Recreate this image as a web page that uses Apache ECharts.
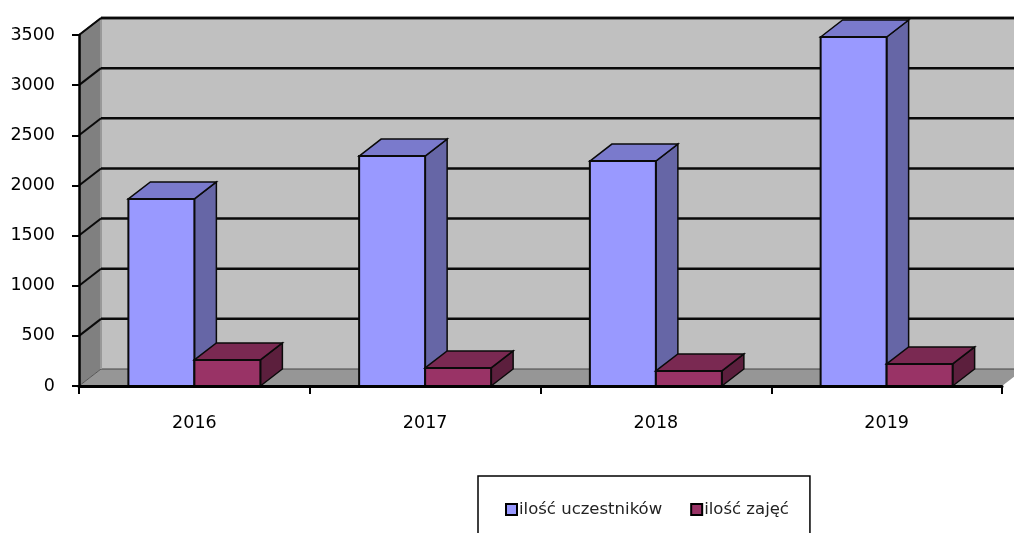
<!DOCTYPE html>
<html><head><meta charset="utf-8">
<style>html,body{margin:0;padding:0;background:#fff}#c{width:1014px;height:533px}</style>
<script src="https://cdn.jsdelivr.net/npm/echarts@6/dist/echarts.min.js"></script>
</head><body><div id="c"></div>
<script>
var categories = ['2016', '2017', '2018', '2019'];
var uczestnicy = [1865, 2293, 2243, 3480];
var zajecia = [260, 180, 150, 220];
var yTicks = [500, 1000, 1500, 2000, 2500, 3000, 3500];
var seriesNames = ['ilość uczestników', 'ilość zajęć'];

var DX = 22, DY = -17, BAR = 66, FONT = 'DejaVu Sans, Verdana, sans-serif';
var INK = '#0a0a0a';

function poly(points, fill, stroke, w) {
  return { type: 'polygon', shape: { points: points },
    style: { fill: fill, stroke: stroke || null, lineWidth: w || 0 } };
}
function seg(x1, y1, x2, y2, color, w) {
  return { type: 'line', shape: { x1: x1, y1: y1, x2: x2, y2: y2 },
    style: { stroke: color, lineWidth: w, fill: null } };
}
function wallItem(params, api) {
  var g = params.coordSys, l = g.x, r = g.x + g.width;
  var y0 = api.coord([0, 0])[1], yT = api.coord([0, 3500])[1];
  return { type: 'group', children: [
    poly([[l, y0], [l + DX, y0 + DY], [l + DX, yT + DY], [l, yT]], '#808080'),
    poly([[l + DX, y0 + DY], [r + DX, y0 + DY], [r + DX, yT + DY], [l + DX, yT + DY]], '#c0c0c0'),
    poly([[l, y0], [l + DX, y0 + DY], [r + DX, y0 + DY], [r, y0]], '#969696'),
    seg(l + DX, y0 + DY, r + DX, y0 + DY, '#444', 1),
    seg(l, y0, l + DX, y0 + DY, '#555', 1),
    seg(l + DX, y0 + DY, l + DX, yT + DY, '#999', 2),
    seg(l, yT, l + DX, yT + DY, '#333', 1.5),
    seg(l + DX, yT + DY, r + DX, yT + DY, '#222', 2.5)
  ] };
}
function gridItem(params, api) {
  var g = params.coordSys, l = g.x, r = g.x + g.width;
  var y = api.coord([0, api.value(1)])[1];
  return { type: 'group', children: [
    seg(l, y, l + DX, y + DY, INK, 2),
    seg(l + DX, y + DY, r + DX, y + DY, INK, 2.5)
  ] };
}
function barRenderer(offset, front, top, side) {
  return function (params, api) {
    var c = api.coord([api.value(0), api.value(1)]);
    var y0 = api.coord([api.value(0), 0])[1];
    var x1 = c[0] + offset * BAR, x2 = x1 + BAR, y = c[1];
    return { type: 'group', children: [
      poly([[x2, y0], [x2 + DX, y0 + DY], [x2 + DX, y + DY], [x2, y]], side, INK, 1.5),
      poly([[x1, y], [x1 + DX, y + DY], [x2 + DX, y + DY], [x2, y]], top, INK, 1.5),
      poly([[x1, y0], [x2, y0], [x2, y], [x1, y]], front, INK, 2)
    ] };
  };
}
function barData(values) {
  return values.map(function (v, i) { return [i, v]; });
}
var chart = echarts.init(document.getElementById('c'), null, { renderer: 'canvas' });
chart.setOption({
  animation: false,
  backgroundColor: '#fff',
  grid: { left: 79, right: 12, top: 35, bottom: 147 },
  legend: {
    data: seriesNames, left: 478, top: 476, orient: 'horizontal', icon: 'rect',
    padding: [25, 21, 40, 27], borderColor: '#000', borderWidth: 1.5,
    itemWidth: 11, itemHeight: 11, itemGap: 28,
    textStyle: { fontFamily: FONT, fontSize: 16.5, color: '#222', padding: [0, 0, 0, -3] }
  },
  xAxis: {
    type: 'category', data: categories, boundaryGap: true, z: 10,
    axisLine: { onZero: false, lineStyle: { color: '#000', width: 3 } },
    axisTick: { show: true, length: 8, lineStyle: { color: '#000', width: 2 } },
    axisLabel: { fontFamily: FONT, fontSize: 17.5, color: '#000', margin: 28 }
  },
  yAxis: {
    type: 'value', min: 0, max: 3500, interval: 500, z: 10,
    axisLine: { show: true, lineStyle: { color: '#000', width: 2.5 } },
    axisTick: { show: true, length: 7, lineStyle: { color: '#000', width: 2 } },
    splitLine: { show: false },
    axisLabel: { fontFamily: FONT, fontSize: 17.5, color: '#000', margin: 24, padding: [6, 0, 0, 0],
      formatter: function (v) { return String(v); } }
  },
  series: [
    { type: 'custom', name: 'walls', silent: true, clip: false, z: 1, coordinateSystem: 'cartesian2d',
      renderItem: wallItem, data: [[0, 0]] },
    { type: 'custom', name: 'grid', silent: true, clip: false, z: 2, coordinateSystem: 'cartesian2d',
      renderItem: gridItem, data: yTicks.map(function (v) { return [0, v]; }) },
    { type: 'custom', name: seriesNames[0], clip: false, z: 3,
      itemStyle: { color: '#9999ff', borderColor: '#000', borderWidth: 2.5 },
      renderItem: barRenderer(-1, '#9999ff', '#7a7acc', '#6666a6'), data: barData(uczestnicy) },
    { type: 'custom', name: seriesNames[1], clip: false, z: 4,
      itemStyle: { color: '#993366', borderColor: '#000', borderWidth: 2.5 },
      renderItem: barRenderer(0, '#993366', '#7a2952', '#5c1f3d'), data: barData(zajecia) }
  ]
});
</script></body></html>
